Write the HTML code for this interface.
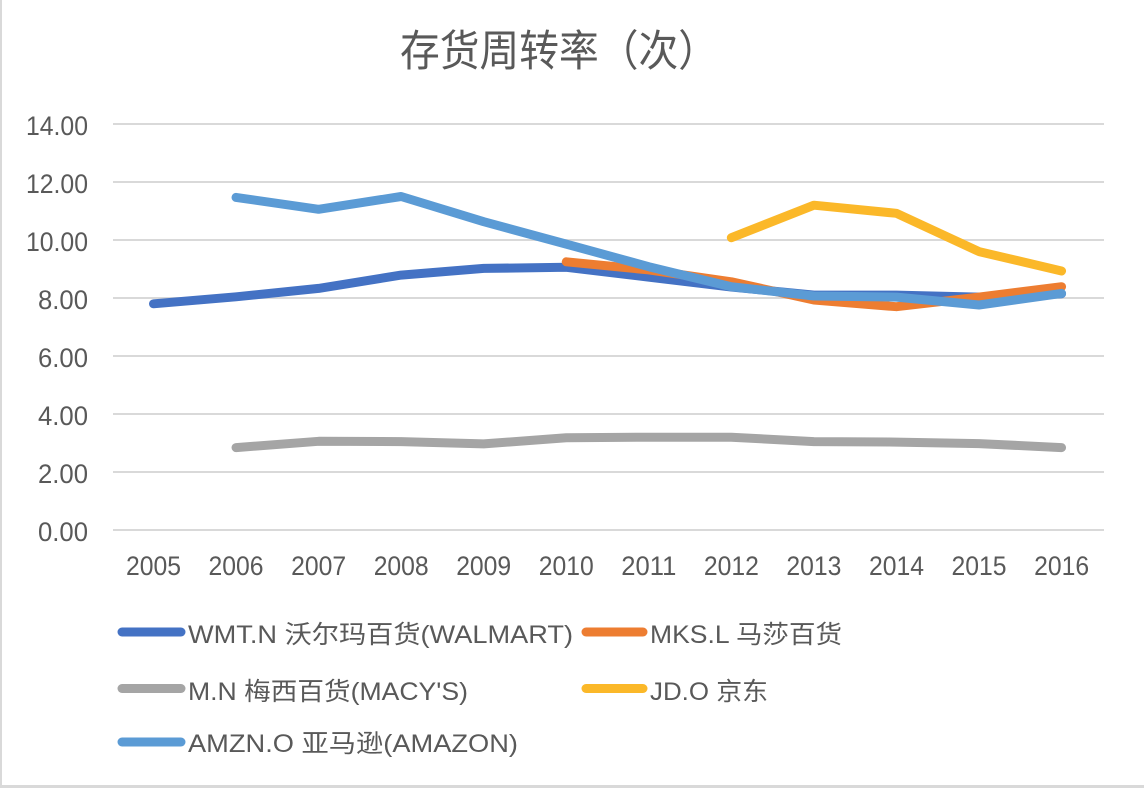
<!DOCTYPE html>
<html>
<head>
<meta charset="utf-8">
<style>
  html, body { margin:0; padding:0; background:#fff; }
  body { width:1144px; height:788px; overflow:hidden; }
  svg { display:block; }
  text { font-family: "Liberation Sans", "Noto Sans CJK SC", sans-serif; fill:#595959; }
</style>
</head>
<body>
<svg width="1144" height="788" viewBox="0 0 1144 788" xmlns="http://www.w3.org/2000/svg">
  <rect x="0" y="0" width="1144" height="788" fill="#ffffff"/>
  <!-- chart border (left & bottom visible) -->
  <rect x="0" y="0" width="2" height="788" fill="#d9d9d9"/>
  <rect x="0" y="785" width="1144" height="3" fill="#d9d9d9"/>

  <!-- title -->
  <text x="400" y="66" font-size="43" textLength="318" lengthAdjust="spacingAndGlyphs">存货周转率（次）</text>

  <!-- gridlines -->
  <g stroke="#d9d9d9" stroke-width="2">
    <line x1="113" y1="124" x2="1104" y2="124"/>
    <line x1="113" y1="182" x2="1104" y2="182"/>
    <line x1="113" y1="240" x2="1104" y2="240"/>
    <line x1="113" y1="298" x2="1104" y2="298"/>
    <line x1="113" y1="356" x2="1104" y2="356"/>
    <line x1="113" y1="414" x2="1104" y2="414"/>
    <line x1="113" y1="472" x2="1104" y2="472"/>
    <line x1="113" y1="530" x2="1104" y2="530"/>
  </g>

  <!-- y axis labels -->
  <g font-size="27" text-anchor="end">
    <text x="88" y="135" textLength="62" lengthAdjust="spacingAndGlyphs">14.00</text>
    <text x="88" y="193" textLength="62" lengthAdjust="spacingAndGlyphs">12.00</text>
    <text x="88" y="251" textLength="62" lengthAdjust="spacingAndGlyphs">10.00</text>
    <text x="88" y="309" textLength="50" lengthAdjust="spacingAndGlyphs">8.00</text>
    <text x="88" y="367" textLength="50" lengthAdjust="spacingAndGlyphs">6.00</text>
    <text x="88" y="425" textLength="50" lengthAdjust="spacingAndGlyphs">4.00</text>
    <text x="88" y="483" textLength="50" lengthAdjust="spacingAndGlyphs">2.00</text>
    <text x="88" y="541" textLength="50" lengthAdjust="spacingAndGlyphs">0.00</text>
  </g>

  <!-- x axis labels -->
  <g font-size="27">
    <text x="126" y="575" textLength="55" lengthAdjust="spacingAndGlyphs">2005</text>
    <text x="208.5" y="575" textLength="55" lengthAdjust="spacingAndGlyphs">2006</text>
    <text x="291.1" y="575" textLength="55" lengthAdjust="spacingAndGlyphs">2007</text>
    <text x="373.7" y="575" textLength="55" lengthAdjust="spacingAndGlyphs">2008</text>
    <text x="456.2" y="575" textLength="55" lengthAdjust="spacingAndGlyphs">2009</text>
    <text x="538.8" y="575" textLength="55" lengthAdjust="spacingAndGlyphs">2010</text>
    <text x="621.3" y="575" textLength="55" lengthAdjust="spacingAndGlyphs">2011</text>
    <text x="703.9" y="575" textLength="55" lengthAdjust="spacingAndGlyphs">2012</text>
    <text x="786.4" y="575" textLength="55" lengthAdjust="spacingAndGlyphs">2013</text>
    <text x="869" y="575" textLength="55" lengthAdjust="spacingAndGlyphs">2014</text>
    <text x="951.5" y="575" textLength="55" lengthAdjust="spacingAndGlyphs">2015</text>
    <text x="1034.1" y="575" textLength="55" lengthAdjust="spacingAndGlyphs">2016</text>
  </g>

  <!-- series -->
  <g fill="none" stroke-width="9" stroke-linecap="round" stroke-linejoin="round">
    <!-- WMT -->
    <polyline stroke="#4472C4" points="153.5,303.8 236.05,296.8 318.6,288.4 401.15,275.1 483.7,268.4 566.25,267.3 648.8,277.1 731.35,287.0 813.9,295.1 896.45,295.1 979,297.1 1061.55,293.7"/>
    <!-- MKS -->
    <polyline stroke="#ED7D31" points="566.25,261.8 648.8,269.9 731.35,281.8 813.9,300.0 896.45,306.7 979,297.1 1061.55,286.7"/>
    <!-- MACY -->
    <polyline stroke="#A5A5A5" points="236.05,447.6 318.6,441.3 401.15,441.6 483.7,443.9 566.25,437.8 648.8,437.2 731.35,437.2 813.9,441.6 896.45,442.1 979,443.6 1061.55,447.6"/>
    <!-- JD -->
    <polyline stroke="#FBB829" points="731.35,237.7 813.9,205.2 896.45,213.3 979,251.6 1061.55,271.0"/>
    <!-- AMZN -->
    <polyline stroke="#5B9BD5" points="236.05,197.4 318.6,209.3 401.15,196.5 483.7,221.7 566.25,244.1 648.8,266.7 731.35,286.7 813.9,296.0 896.45,297.1 979,305.0 1061.55,293.4"/>
  </g>

  <!-- legend -->
  <g stroke-width="9" stroke-linecap="round">
    <line x1="122" y1="632" x2="181" y2="632" stroke="#4472C4"/>
    <line x1="586" y1="632" x2="643" y2="632" stroke="#ED7D31"/>
    <line x1="122" y1="688.5" x2="181" y2="688.5" stroke="#A5A5A5"/>
    <line x1="586" y1="688.5" x2="643" y2="688.5" stroke="#FBB829"/>
    <line x1="122" y1="742" x2="181" y2="742" stroke="#5B9BD5"/>
  </g>
  <g font-size="25">
    <text x="188" y="643" textLength="385" lengthAdjust="spacingAndGlyphs">WMT.N 沃尔玛百货(WALMART)</text>
    <text x="650" y="643" textLength="192" lengthAdjust="spacingAndGlyphs">MKS.L 马莎百货</text>
    <text x="188" y="700" textLength="280" lengthAdjust="spacingAndGlyphs">M.N 梅西百货(MACY'S)</text>
    <text x="650" y="700" textLength="118" lengthAdjust="spacingAndGlyphs">JD.O 京东</text>
    <text x="188" y="752" textLength="330" lengthAdjust="spacingAndGlyphs">AMZN.O 亚马逊(AMAZON)</text>
  </g>
</svg>
</body>
</html>
